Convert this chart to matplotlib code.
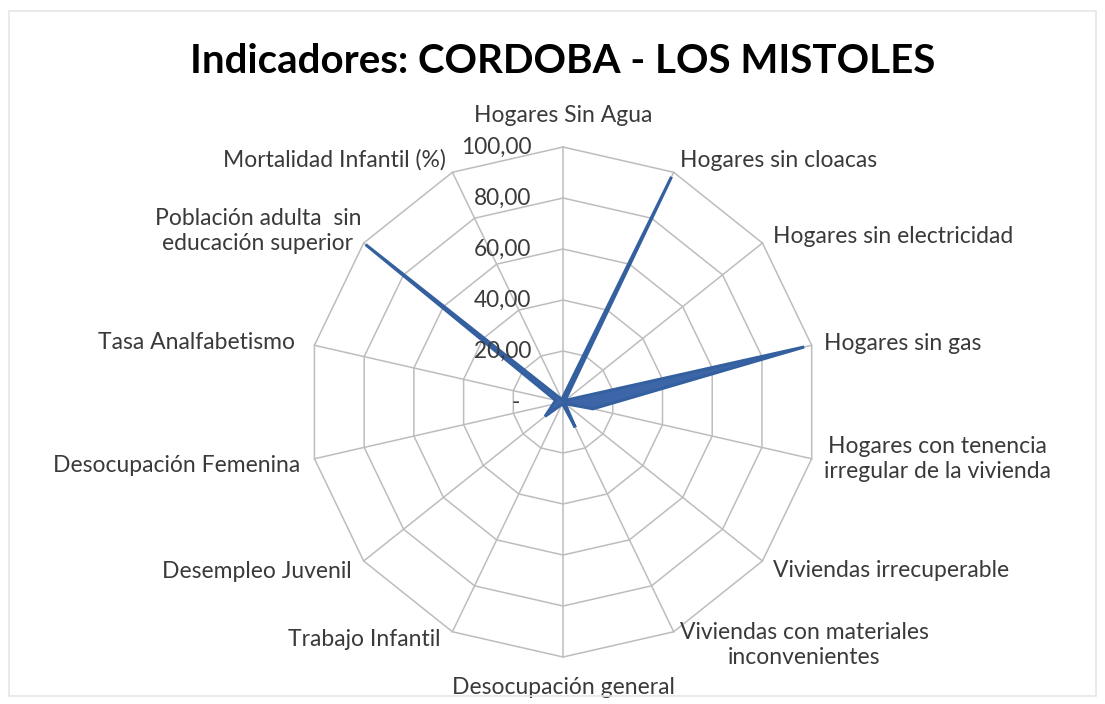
import numpy as np
import matplotlib
matplotlib.use("Agg")
import matplotlib.pyplot as plt
from matplotlib.patches import Rectangle

# categories clockwise from the top
categorias = [
    "Hogares Sin Agua",
    "Hogares sin cloacas",
    "Hogares sin electricidad",
    "Hogares sin gas",
    "Hogares con tenencia\nirregular de la vivienda",
    "Viviendas irrecuperable",
    "Viviendas con materiales\ninconvenientes",
    "Desocupación general",
    "Trabajo Infantil",
    "Desempleo Juvenil",
    "Desocupación Femenina",
    "Tasa Analfabetismo",
    "Población adulta  sin\neducación superior",
    "Mortalidad Infantil (%)",
]
valores = [2, 98, 1, 97, 12, 1, 11, 1, 1, 9, 4, 3, 99, 1]
ticks = [0, 20, 40, 60, 80, 100]
tick_labels = ["-", "20,00", "40,00", "60,00", "80,00", "100,00"]

titulo = "Indicadores: CORDOBA - LOS MISTOLES"

# label nudges (axis units) from each outer vertex
lab_dx = [0, 2.4, 4.3, 5, 5, 4.3, 2.4, 0, -4.7, -4.7, -5.5, -7.5, -1, -2.7]
lab_dy = [12.2, 4.7, 2.7, 0.8, 0, -3.9, -5.1, -11.8, -3.1, -4.3, -2.7, 1.2, 4.7, 4.7]

n = len(categorias)
th = np.arange(n) * 2 * np.pi / n
sx, cy = np.sin(th), np.cos(th)

fig = plt.figure(figsize=(11.05, 7.04), dpi=100)
fig.patch.set_facecolor("white")
fig.patches.append(Rectangle((0.008, 0.012), 0.984, 0.972, transform=fig.transFigure,
                             fill=False, edgecolor="#e6e6e6", lw=1.2))

ax = fig.add_axes([0.2557, 0.0305, 0.5077, 0.7969])
ax.set_xlim(-110, 110)
ax.set_ylim(-110, 110)
ax.set_aspect("equal")
ax.axis("off")

grid_c = "#bdbdbd"
for r in ticks[1:]:
    ax.plot(np.append(r * sx, r * sx[0]), np.append(r * cy, r * cy[0]),
            color=grid_c, lw=1.1, zorder=1)
for i in range(n):
    ax.plot([0, 100 * sx[i]], [0, 100 * cy[i]], color=grid_c, lw=1.1, zorder=1)

v = np.array(valores, dtype=float)
ax.fill(v * sx, v * cy, facecolor="#3d66a8", edgecolor="#34609f", lw=2.2,
        joinstyle="miter", zorder=3)

txt_c = "#3a3a3a"
fnt = "Lato"
for t, lab in zip(ticks, tick_labels):
    xoff = -17 if t == 0 else -12.5
    ax.text(xoff, t, lab, ha="right", va="center", fontsize=16.3, color=txt_c,
            family=fnt, zorder=4)

for i, lab in enumerate(categorias):
    s, c = sx[i], cy[i]
    ha = "center" if abs(s) < 0.1 else ("left" if s > 0 else "right")
    ax.text(100 * s + lab_dx[i], 100 * c + lab_dy[i], lab, ha=ha, va="center",
            fontsize=16.5, color=txt_c, family=fnt, multialignment="center",
            linespacing=1.25, clip_on=False)

fig.text(0.509, 0.912, titulo, ha="center", va="center", fontsize=29,
         fontweight="bold", family="Lato", color="black")

fig.savefig("out.png", dpi=100, facecolor="white")
